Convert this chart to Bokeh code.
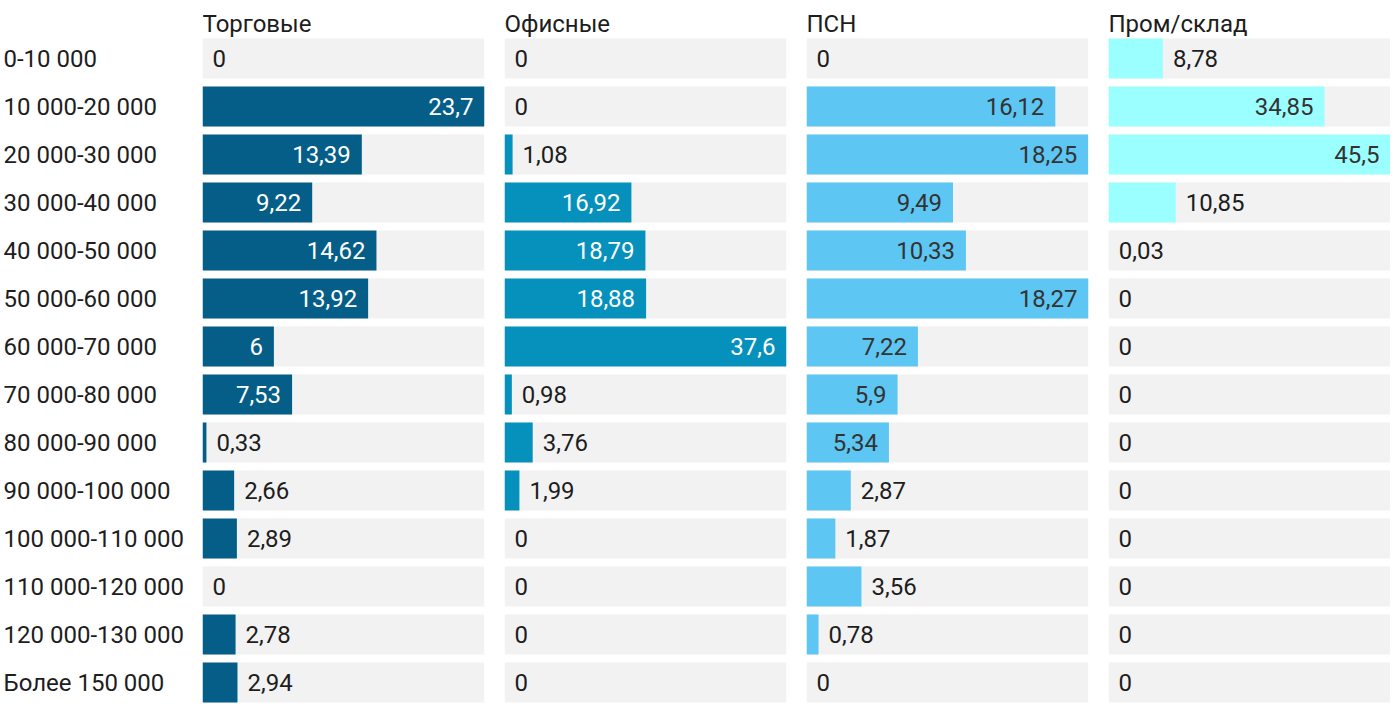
from bokeh.plotting import figure
from bokeh.models import Range1d
from bokeh.layouts import row
from bokeh.core.properties import value
from bokeh.embed import file_html
from bokeh.resources import INLINE

categories = ["0-10 000", "10 000-20 000", "20 000-30 000", "30 000-40 000",
              "40 000-50 000", "50 000-60 000", "60 000-70 000", "70 000-80 000",
              "80 000-90 000", "90 000-100 000", "100 000-110 000", "110 000-120 000",
              "120 000-130 000", "Более 150 000"]

titles = ["Торговые", "Офисные", "ПСН", "Пром/склад"]

torgovye = [0, 23.7, 13.39, 9.22, 14.62, 13.92, 6, 7.53, 0.33, 2.66, 2.89, 0, 2.78, 2.94]
ofisnye = [0, 0, 1.08, 16.92, 18.79, 18.88, 37.6, 0.98, 3.76, 1.99, 0, 0, 0, 0]
psn = [0, 16.12, 18.25, 9.49, 10.33, 18.27, 7.22, 5.9, 5.34, 2.87, 1.87, 3.56, 0.78, 0]
prom = [8.78, 34.85, 45.5, 10.85, 0.03, 0, 0, 0, 0, 0, 0, 0, 0, 0]

series = [torgovye, ofisnye, psn, prom]
colors = ["#055e87", "#0691bd", "#5ec6f2", "#9cffff"]
inside_text = ["#ffffff", "#ffffff", "#333333", "#333333"]

FONT = value("Roboto")
FS = "24px"
DARK = "#1d1d1d"
H = 712
PANEL_W = 282
GAP = 20
ROW_PX = 48
FIRST_CENTER = 58  # px from figure top to centre of first row

n = len(categories)
y_top = -FIRST_CENTER / ROW_PX
y_bottom = (H - FIRST_CENTER) / ROW_PX
ys = list(range(n))


def base_fig(w, xr, border_right=0):
    p = figure(width=w, height=H, x_range=xr, y_range=Range1d(y_bottom, y_top),
               output_backend="svg", toolbar_location=None,
               min_border_left=0, min_border_right=border_right,
               min_border_top=0, min_border_bottom=0)
    p.axis.visible = False
    p.grid.visible = False
    p.outline_line_color = None
    p.background_fill_color = None
    p.border_fill_color = None
    return p


def fmt(v):
    return f"{v:g}".replace(".", ",")


def text_w(s, size=24):
    w = 0
    for ch in s:
        w += size * (0.2 if ch == "," else 0.5615)
    return w


# label column
lab = base_fig(202, Range1d(0, 202))
lab.text(x=[0] * n, y=ys, x_offset=3, text=categories, text_font=FONT, text_font_size=FS,
         text_color=DARK, text_align="left", text_baseline="middle")

figs = [lab]
for k, (vals, title) in enumerate(zip(series, titles)):
    vmax = max(vals)
    last = k == len(series) - 1
    p = base_fig(PANEL_W + (0 if last else GAP), Range1d(0, vmax),
                 border_right=0 if last else GAP)
    p.hbar(y=ys, left=0, right=[vmax] * n, height=40 / 48,
           fill_color="#f2f2f2", line_color=None)
    p.hbar(y=ys, left=0, right=vals, height=40 / 48,
           fill_color=colors[k], line_color=None)
    ins_x, ins_y, ins_t = [], [], []
    out_x, out_y, out_t = [], [], []
    for i, v in enumerate(vals):
        s = fmt(v)
        bar_px = v / vmax * PANEL_W
        if v > 0 and bar_px >= text_w(s) + 20:
            ins_x.append(v); ins_y.append(i); ins_t.append(s)
        else:
            out_x.append(v); out_y.append(i); out_t.append(s)
    p.text(x=ins_x, y=ins_y, text=ins_t, x_offset=-11, text_font=FONT,
           text_font_size=FS, text_color=inside_text[k], text_align="right",
           text_baseline="middle")
    p.text(x=out_x, y=out_y, text=out_t, x_offset=10, text_font=FONT,
           text_font_size=FS, text_color=DARK, text_align="left",
           text_baseline="middle")
    p.text(x=[0], y=[y_top], y_offset=23, text=[title], text_font=FONT,
           text_font_size=FS, text_color=DARK, text_align="left",
           text_baseline="alphabetic")
    figs.append(p)

layout = row(figs)
open("out.html", "w").write(file_html(layout, INLINE))
